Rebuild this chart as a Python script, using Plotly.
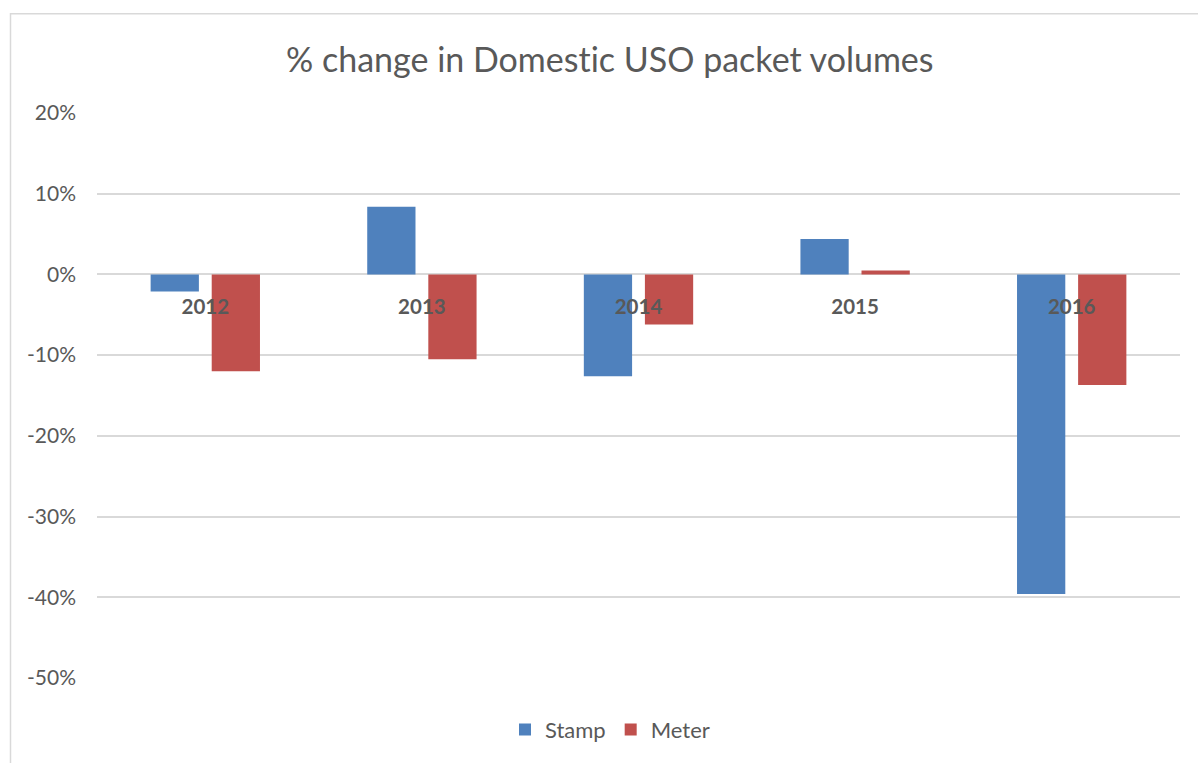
import plotly.graph_objects as go

years = ["2012", "2013", "2014", "2015", "2016"]
stamp = [-2.1, 8.4, -12.6, 4.4, -39.6]
meter = [-12.0, -10.5, -6.2, 0.5, -13.7]
y_ticks = [20, 10, 0, -10, -20, -30, -40, -50]

stamp_f = [v / 100 for v in stamp]
meter_f = [v / 100 for v in meter]

FONT = "Lato"
GRAY = "#595959"

fig = go.Figure()
fig.add_trace(go.Bar(name="Stamp", x=years, y=stamp_f, marker=dict(color="#4F81BD", line=dict(width=0))))
fig.add_trace(go.Bar(name="Meter", x=years, y=meter_f, marker=dict(color="#C0504D", line=dict(width=0))))

fig.update_layout(
    width=1198, height=763,
    margin=dict(l=97, r=18, t=113, b=83),
    paper_bgcolor="white", plot_bgcolor="white",
    barmode="group", bargap=0.436, bargroupgap=0.21,
    title=dict(text="% change in Domestic USO packet volumes", x=0.509, xanchor="center",
               y=1 - 60 / 763, yanchor="middle",
               font=dict(family=FONT, size=34, color=GRAY)),
    font=dict(family=FONT, size=21, color=GRAY),
    showlegend=True,
    legend=dict(orientation="h", x=(610 - 97) / 1083, xanchor="center", y=-(732 - 680) / 567, yanchor="middle",
                font=dict(family=FONT, size=22, color=GRAY), traceorder="normal",
                itemwidth=30, tracegroupgap=0),
    xaxis=dict(anchor="free", position=0.5 / 0.7, showline=False, showgrid=False, zeroline=False,
               tickfont=dict(family=FONT, size=20.5, color=GRAY, weight="bold"),
               ticks="", ticklabelstandoff=18),
    yaxis=dict(range=[-0.5, 0.2], tickvals=[v / 100 for v in y_ticks],
               ticktext=[f"{v}%" for v in y_ticks],
               showgrid=True, gridcolor="#D9D9D9", gridwidth=1.5,
               zeroline=True, zerolinecolor="#D9D9D9", zerolinewidth=1.5,
               showline=False, ticks="", ticklabelstandoff=20,
               tickfont=dict(family=FONT, size=21, color=GRAY)),
)

fig.add_shape(type="rect", xref="paper", yref="paper",
              x0=(10.5 - 97) / 1083, x1=(1210 - 97) / 1083,
              y0=(680 - 780) / 567, y1=(680 - 13.5) / 567,
              line=dict(color="#D9D9D9", width=1.5), fillcolor="rgba(0,0,0,0)", layer="below")

post = ("document.head.insertAdjacentHTML('beforeend',"
        "'<style>html,body{margin:0;padding:0;overflow:hidden} text{font-variant-ligatures:none !important;}</style>');")
fig.write_html("out.html", post_script=post, config={"displayModeBar": False})
